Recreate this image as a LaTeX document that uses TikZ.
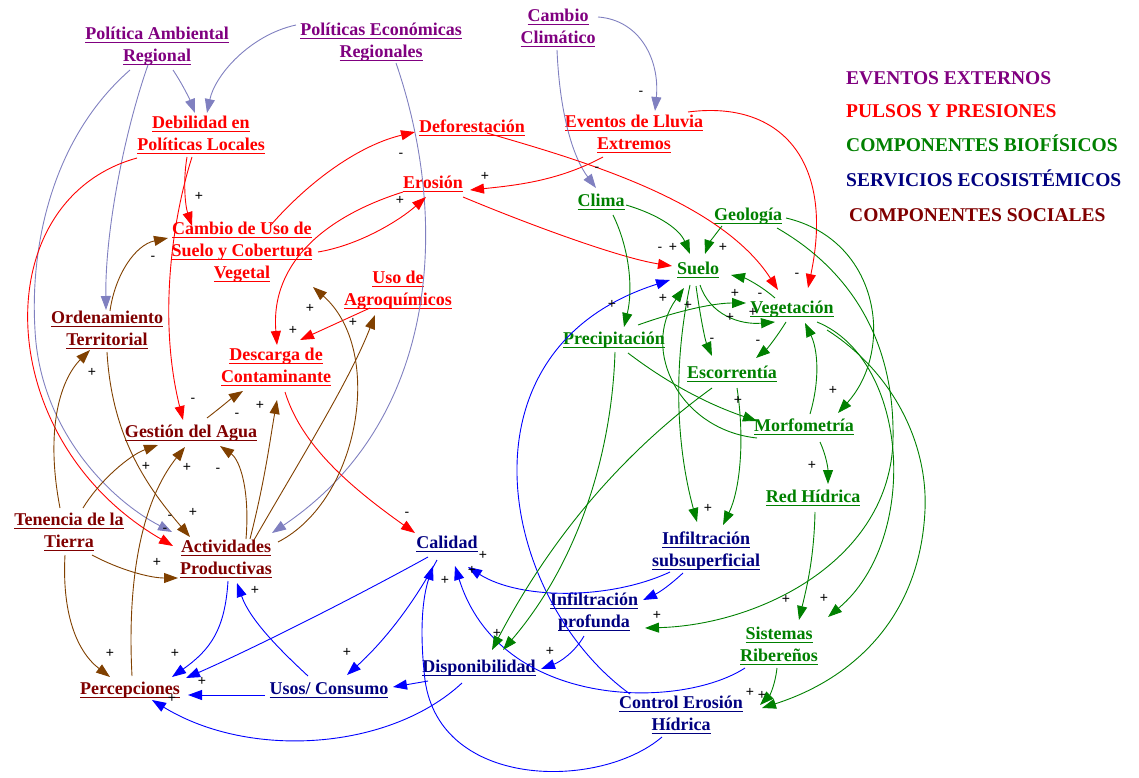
\documentclass[tikz,border=0pt]{standalone}
\usepackage{fontspec}
\setmainfont{Liberation Serif}
\newfontfamily\lblfont{Liberation Sans}
\usetikzlibrary{arrows.meta,calc}
\definecolor{cExt}{RGB}{128,0,128}
\definecolor{cPres}{RGB}{255,0,0}
\definecolor{cBio}{RGB}{0,128,0}
\definecolor{cServ}{RGB}{0,0,128}
\definecolor{cSoc}{RGB}{128,0,0}
\definecolor{aLav}{RGB}{128,128,192}
\definecolor{aBrn}{RGB}{128,64,0}
\definecolor{aBlu}{RGB}{0,0,255}
\newcommand{\ulx}[1]{\leavevmode\setbox0=\hbox{#1}\rlap{\rule[-3.5pt]{\wd0}{1.1pt}}\box0}
\tikzset{
 var/.style={font=\fontsize{18}{22}\selectfont\bfseries, align=center, inner sep=1pt},
 ext/.style={var,text=cExt}, pres/.style={var,text=cPres}, bio/.style={var,text=cBio},
 serv/.style={var,text=cServ}, soc/.style={var,text=cSoc},
 lnk/.style={line width=0.9pt,-{Triangle[length=14pt,width=10pt]}},
 lav/.style={lnk,aLav}, rd/.style={lnk,cPres}, brn/.style={lnk,aBrn}, blu/.style={lnk,aBlu}, grn/.style={lnk,cBio},
 sgn/.style={font=\lblfont\fontsize{14}{14}\selectfont, inner sep=0pt},
 leg/.style={font=\fontsize{19.5}{22}\selectfont\bfseries, anchor=west, inner sep=0pt}
}
\begin{document}
\begin{tikzpicture}[x=1pt,y=-1pt]
\useasboundingbox (0,0) rectangle (1139,778);
% ---------- nodes
\node[ext] (PolAmb) at (157,46) {\ulx{Política Ambiental}\\\ulx{Regional}};
\node[ext] (PolEco) at (381,42) {\ulx{Políticas Económicas}\\\ulx{Regionales}};
\node[ext] (CambioClim) at (558,28) {\ulx{Cambio}\\\ulx{Climático}};
\node[pres] (Debil) at (201,135) {\ulx{Debilidad en}\\\ulx{Políticas Locales}};
\node[pres] (Defor) at (472,128) {\ulx{Deforestación}};
\node[pres] (Eventos) at (634,134) {\ulx{Eventos de Lluvia}\\\ulx{Extremos}};
\node[pres] (Erosion) at (433,184) {\ulx{Erosión}};
\node[bio] (Clima) at (601,202) {\ulx{Clima}};
\node[bio] (Geologia) at (748,216) {\ulx{Geología}};
\node[pres] (CambioUso) at (242,252) {\ulx{Cambio de Uso de}\\\ulx{Suelo y Cobertura}\\\ulx{Vegetal}};
\node[bio] (Suelo) at (698,270) {\ulx{Suelo}};
\node[pres] (UsoAgro) at (398,290) {\ulx{Uso de}\\\ulx{Agroquímicos}};
\node[bio] (Vegetacion) at (792,309) {\ulx{Vegetación}};
\node[soc] (Ordenamiento) at (107,330) {\ulx{Ordenamiento}\\\ulx{Territorial}};
\node[bio] (Precip) at (614,340) {\ulx{Precipitación}};
\node[pres] (Descarga) at (276,367) {\ulx{Descarga de}\\\ulx{Contaminante}};
\node[bio] (Escorrentia) at (732,374) {\ulx{Escorrentía}};
\node[bio] (Morfometria) at (804,427) {\ulx{Morfometría}};
\node[soc] (GestionAgua) at (191,433) {\ulx{Gestión del Agua}};
\node[bio] (RedHidrica) at (813,498) {\ulx{Red Hídrica}};
\node[soc] (Tenencia) at (69,532) {\ulx{Tenencia de la}\\\ulx{Tierra}};
\node[soc] (Actividades) at (226,559) {\ulx{Actividades}\\\ulx{Productivas}};
\node[serv] (Calidad) at (447,544) {\ulx{Calidad}};
\node[serv] (InfSub) at (706,551) {\ulx{Infiltración}\\\ulx{subsuperficial}};
\node[serv] (InfProf) at (594,612) {\ulx{Infiltración}\\\ulx{profunda}};
\node[bio] (SistRib) at (779,646) {\ulx{Sistemas}\\\ulx{Ribereños}};
\node[serv] (Disponib) at (479,668) {\ulx{Disponibilidad}};
\node[soc] (Percepciones) at (130,690) {\ulx{Percepciones}};
\node[serv] (Usos) at (329,690) {\ulx{Usos/ Consumo}};
\node[serv] (ControlEros) at (681,715) {\ulx{Control Erosión}\\\ulx{Hídrica}};
% ---------- legend
\node[leg,text=cExt] (lg1) at (846,78) {EVENTOS EXTERNOS};
\node[leg,text=cPres] (lg2) at (846,111) {PULSOS Y PRESIONES};
\node[leg,text=cBio] (lg3) at (846,143) {COMPONENTES BIOFÍSICOS};
\node[leg,text=cServ] (lg4) at (846,178) {SERVICIOS ECOSISTÉMICOS};
\node[leg,text=cSoc] (lg5) at (849,215) {COMPONENTES SOCIALES};
% ---------- lavender (external)
\draw[lav] ($(PolAmb)+(16,24)$) .. controls (183,85) and (190,100) .. ($(Debil)+(-6,-22)$);
\draw[lav] ($(PolEco)+(-85,-17)$) .. controls (250,35) and (215,75) .. ($(Debil)+(6,-22)$);
\draw[lav] ($(PolAmb)+(-9,19)$) .. controls (125,130) and (105,230) .. ($(Ordenamiento)+(-1,-20)$);
\draw[lav] ($(PolAmb)+(-27,24)$) .. controls (50,140) and (30,250) .. (35,330) .. controls (40,430) and (110,500) .. ($(Actividades)+(-54,-27)$);
\draw[lav] ($(PolEco)+(15,21)$) .. controls (450,220) and (440,420) .. ($(Actividades)+(46,-26)$);
\draw[lav] ($(CambioClim)+(40,-11)$) .. controls (640,20) and (660,60) .. ($(Eventos)+(21,-23)$);
\draw[lav] ($(CambioClim)+(-1,22)$) .. controls (560,120) and (575,160) .. ($(Clima)+(-5,-14)$);
% ---------- red (pressures)
\draw[rd] ($(Debil)+(-14,22)$) .. controls (183,180) and (185,205) .. ($(CambioUso)+(-50,-26)$);
\draw[rd] ($(Debil)+(-9,22)$) .. controls (172,220) and (158,320) .. ($(GestionAgua)+(-8,-13)$);
\draw[rd] ($(Debil)+(-64,23)$) .. controls (-15,200) and (-10,440) .. ($(Actividades)+(-53,-13)$);
\draw[rd] ($(CambioUso)+(28,-26)$) .. controls (310,180) and (360,145) .. ($(Defor)+(-57,4)$);
\draw[rd] ($(CambioUso)+(76,0)$) .. controls (360,245) and (400,220) .. ($(Erosion)+(-7,13)$);
\draw[rd] ($(Erosion)+(-30,8)$) .. controls (330,215) and (270,260) .. ($(Descarga)+(1,-22)$);
\draw[rd] ($(UsoAgro)+(-28,18)$) -- ($(Descarga)+(24,-27)$);
\draw[rd] ($(Defor)+(15,5)$) .. controls (580,160) and (720,200) .. ($(Vegetacion)+(-14,-19)$);
\draw[rd] ($(Eventos)+(-31,23)$) .. controls (560,180) and (520,185) .. ($(Erosion)+(37,6)$);
\draw[rd] ($(Eventos)+(54,-22)$) .. controls (780,100) and (835,160) .. ($(Vegetacion)+(16,-21)$);
\draw[rd] ($(Erosion)+(30,13)$) .. controls (530,225) and (620,258) .. ($(Suelo)+(-26,-4)$);
\draw[rd] ($(Descarga)+(9,25)$) .. controls (300,440) and (340,480) .. ($(Calidad)+(-32,-11)$);
% ---------- brown (social)
\draw[brn] ($(Ordenamiento)+(3,-19)$) .. controls (115,275) and (135,245) .. ($(CambioUso)+(-74,-14)$);
\draw[brn] ($(Ordenamiento)+(0,22)$) .. controls (112,440) and (150,490) .. ($(Actividades)+(-36,-22)$);
\draw[brn] ($(Tenencia)+(-9,-24)$) .. controls (45,430) and (60,380) .. ($(Ordenamiento)+(-17,20)$);
\draw[brn] ($(Tenencia)+(14,-24)$) .. controls (100,480) and (130,455) .. ($(GestionAgua)+(-33,12)$);
\draw[brn] ($(Tenencia)+(23,23)$) .. controls (120,570) and (150,578) .. ($(Actividades)+(-48,19)$);
\draw[brn] ($(Tenencia)+(-4,23)$) .. controls (62,610) and (75,650) .. ($(Percepciones)+(-20,-13)$);
\draw[brn] ($(Percepciones)+(2,-14)$) .. controls (128,600) and (135,510) .. ($(GestionAgua)+(-6,14)$);
\draw[brn] ($(GestionAgua)+(16,-15)$) .. controls (220,408) and (232,398) .. ($(Descarga)+(-33,24)$);
\draw[brn] ($(Actividades)+(20,-20)$) .. controls (250,490) and (240,460) .. ($(GestionAgua)+(29,13)$);
\draw[brn] ($(Actividades)+(24,-20)$) .. controls (265,480) and (270,440) .. ($(Descarga)+(1,33)$);
\draw[brn] ($(Actividades)+(28,-19)$) .. controls (300,460) and (350,380) .. ($(UsoAgro)+(-23,25)$);
\draw[brn] ($(Actividades)+(52,-17)$) .. controls (360,500) and (385,350) .. ($(CambioUso)+(71,35)$);
% ---------- blue (services)
\draw[blu] ($(Actividades)+(2,22)$) .. controls (225,630) and (210,650) .. ($(Percepciones)+(42,-13)$);
\draw[blu] ($(Usos)+(-21,-14)$) .. controls (280,650) and (250,620) .. ($(Actividades)+(11,24)$);
\draw[blu] ($(Usos)+(-64,5)$) -- ($(Percepciones)+(58,5)$);
\draw[blu] ($(Calidad)+(-19,13)$) .. controls (350,600) and (250,650) .. ($(Percepciones)+(56,-12)$);
\draw[blu] ($(Calidad)+(-10,16)$) .. controls (410,610) and (380,645) .. ($(Usos)+(18,-15)$);
\draw[blu] ($(ControlEros)+(-19,22)$) .. controls (600,790) and (440,790) .. (425,680) .. controls (418,620) and (425,590) .. ($(Calidad)+(-14,22)$);
\draw[blu] ($(InfSub)+(-36,21)$) .. controls (610,600) and (520,600) .. ($(Calidad)+(21,23)$);
\draw[blu] ($(SistRib)+(-34,22)$) .. controls (680,710) and (500,710) .. ($(Calidad)+(8,22)$);
\draw[blu] ($(ControlEros)+(-51,-21)$) .. controls (500,600) and (450,350) .. ($(Suelo)+(-28,10)$);
\draw[blu] ($(InfSub)+(-23,22)$) .. controls (670,585) and (660,592) .. ($(InfProf)+(49,-12)$);
\draw[blu] ($(InfProf)+(-10,24)$) .. controls (575,652) and (560,662) .. ($(Disponib)+(62,1)$);
\draw[blu] ($(Disponib)+(-51,13)$) -- ($(Usos)+(64,-3)$);
\draw[blu] ($(Disponib)+(-17,15)$) .. controls (390,750) and (250,760) .. ($(Percepciones)+(22,10)$);
% ---------- green (biophysical)
\draw[grn] ($(Clima)+(25,3)$) .. controls (660,215) and (680,230) .. ($(Suelo)+(-8,-16)$);
\draw[grn] ($(Geologia)+(-26,10)$) .. controls (714,236) and (708,245) .. ($(Suelo)+(7,-16)$);
\draw[grn] ($(Clima)+(12,13)$) .. controls (630,250) and (633,290) .. ($(Precip)+(10,-13)$);
\draw[grn] ($(Geologia)+(38,2)$) .. controls (880,240) and (895,350) .. ($(Morfometria)+(34,-14)$);
\draw[grn] ($(Geologia)+(29,12)$) .. controls (850,270) and (895,340) .. (893,440) .. controls (890,560) and (760,625) .. ($(InfProf)+(51,16)$);
\draw[grn] ($(Vegetacion)+(25,13)$) .. controls (910,360) and (920,540) .. ($(SistRib)+(49,-29)$);
\draw[grn] ($(Vegetacion)+(35,21)$) .. controls (890,370) and (928,440) .. (925,510) .. controls (920,620) and (850,680) .. ($(ControlEros)+(81,-7)$);
\draw[grn] ($(Vegetacion)+(-17,-11)$) .. controls (760,285) and (745,278) .. ($(Suelo)+(33,5)$);
\draw[grn] ($(Suelo)+(2,15)$) .. controls (710,315) and (740,325) .. ($(Vegetacion)+(-17,13)$);
\draw[grn] ($(Precip)+(24,-15)$) .. controls (680,310) and (715,303) .. ($(Vegetacion)+(-46,-6)$);
\draw[grn] ($(Suelo)+(-2,16)$) .. controls (700,315) and (705,340) .. ($(Escorrentia)+(-20,-18)$);
\draw[grn] ($(Vegetacion)+(-6,13)$) .. controls (778,335) and (768,348) .. ($(Escorrentia)+(24,-16)$);
\draw[grn] ($(Morfometria)+(-47,11)$) .. controls (680,430) and (640,350) .. ($(Suelo)+(-14,18)$);
\draw[grn] ($(Suelo)+(-8,15)$) .. controls (670,380) and (680,460) .. ($(InfSub)+(-9,-29)$);
\draw[grn] ($(Escorrentia)+(5,14)$) .. controls (745,440) and (740,490) .. ($(InfSub)+(17,-26)$);
\draw[grn] ($(Escorrentia)+(-20,14)$) .. controls (640,440) and (560,520) .. ($(Disponib)+(13,-18)$);
\draw[grn] ($(Precip)+(1,12)$) .. controls (612,450) and (580,560) .. ($(Disponib)+(24,-18)$);
\draw[grn] ($(Precip)+(14,13)$) .. controls (670,385) and (710,405) .. ($(Morfometria)+(-47,-6)$);
\draw[grn] ($(Morfometria)+(16,15)$) .. controls (826,455) and (828,468) .. ($(RedHidrica)+(15,-14)$);
\draw[grn] ($(RedHidrica)+(2,14)$) .. controls (814,560) and (806,590) .. ($(SistRib)+(20,-26)$);
\draw[grn] ($(SistRib)+(-2,22)$) .. controls (775,685) and (770,695) .. ($(ControlEros)+(79,-10)$);
\draw[grn] ($(Morfometria)+(6,-13)$) .. controls (820,380) and (818,350) .. ($(Vegetacion)+(13,14)$);
% ---------- polarity signs
\foreach \p/\s [count=\i] in {
 {(199,196)}/+, {(401,155)}/-, {(400,200)}/+, {(485,176)}/+, {(641,93)}/-, {(597,169)}/-,
 {(193,400)}/-, {(153,258)}/-, {(293,330)}/+, {(310,308)}/+, {(353,322)}/+, {(92,372)}/+,
 {(237,415)}/-, {(260,405)}/+, {(146,466)}/+, {(187,467)}/+, {(218,470)}/-, {(170,517)}/-,
 {(165,530)}/-, {(193,512)}/+, {(157,562)}/+, {(110,653)}/+, {(175,653)}/+, {(202,681)}/+,
 {(172,698)}/+, {(255,590)}/+, {(347,652)}/+, {(407,514)}/-, {(445,580)}/+, {(483,555)}/+,
 {(472,570)}/+, {(550,651)}/+, {(497,633)}/+, {(657,615)}/+, {(660,249)}/-, {(673,247)}/+,
 {(723,247)}/+, {(612,304)}/+, {(663,298)}/+, {(688,305)}/+, {(735,293)}/+, {(760,295)}/-,
 {(753,312)}/+, {(730,317)}/+, {(712,340)}/-, {(758,342)}/-, {(797,275)}/-, {(738,400)}/+,
 {(708,508)}/+, {(833,390)}/+, {(812,465)}/+, {(786,599)}/+, {(824,598)}/+, {(750,692)}/+,
 {(762,695)}/+}
 \node[sgn] (sg\i) at \p {\s};
\end{tikzpicture}
\end{document}
